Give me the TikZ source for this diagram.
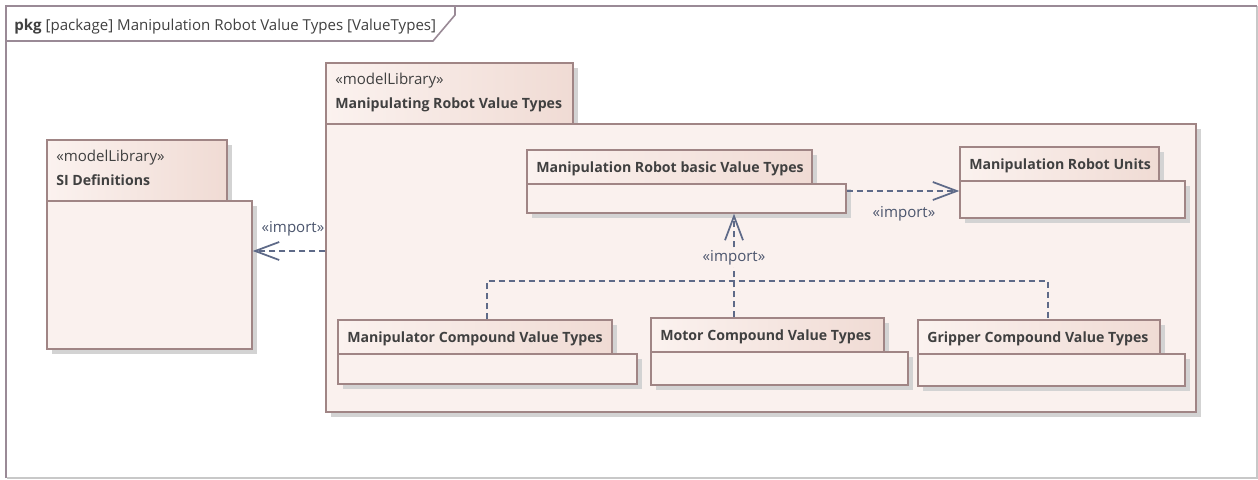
\documentclass[tikz,border=0pt]{standalone}
\usepackage{fontspec}
\setmainfont{Open Sans}
\usetikzlibrary{arrows.meta,fit,shadows}
\definecolor{frameline}{HTML}{9A8A96}
\definecolor{framelight}{HTML}{C8C8C8}
\definecolor{pkgline}{HTML}{A08585}
\definecolor{bodyfill}{HTML}{FAF1EE}
\definecolor{tabL}{HTML}{FBF2EF}
\definecolor{tabR}{HTML}{F0DBD4}
\definecolor{shadowc}{HTML}{D3D3D3}
\definecolor{arrowc}{HTML}{5E6A88}
\definecolor{txt}{HTML}{404040}
\newcommand{\pkgtitle}[1]{{\bfseries\fontsize{10.6pt}{18pt}\selectfont #1}}
\tikzset{
  x=0.75pt, y=-0.75pt,
  pkgshadow/.style={general shadow={fill=shadowc, shadow xshift=3.5pt, shadow yshift=-3.5pt}},
  pkgbody/.style={draw=pkgline, line width=1.1pt, fill=bodyfill, inner sep=0pt, pkgshadow},
  pkgtab/.style={draw=pkgline, line width=1.1pt, left color=tabL, right color=tabR, inner sep=0pt, pkgshadow},
  lbl/.style={text=txt, font=\fontsize{11.3pt}{18pt}\selectfont, inner sep=0pt, align=left},
  ttl/.style={text=txt, font=\bfseries\fontsize{10.6pt}{13pt}\selectfont, inner sep=0pt},
  imp/.style={draw=arrowc, line width=1.1pt, dash pattern=on 4.5pt off 3pt, -{Straight Barb[length=18pt,width=13.5pt,line width=1.3pt]}},
  dep/.style={draw=arrowc, line width=1.1pt, dash pattern=on 4.5pt off 3pt},
  implbl/.style={text=arrowc!80!black, font=\fontsize{11.3pt}{13pt}\selectfont, inner sep=0pt},
}
\begin{document}
\begin{tikzpicture}
\useasboundingbox (0,0) rectangle (1258,479);
\fill[white] (0,0) rectangle (1258,479);
% frame
\draw[framelight, line width=0.8pt] (7,478) -- (1257,478) -- (1257,6);
\draw[frameline, line width=2.2pt] (6,478) -- (6,6) -- (1257,6);
\draw[frameline, line width=1.2pt] (6,41) -- (433,41) -- (455,15) -- (455,6);
\node[anchor=base west, text=txt, font=\fontsize{11.3pt}{13pt}\selectfont, inner sep=0pt] (hdr) at (14,30) {\textbf{pkg} [package] Manipulation Robot Value Types [ValueTypes]};

% SI Definitions
\coordinate (sitA) at (47,140); \coordinate (sitB) at (227,201);
\coordinate (sibA) at (47,201); \coordinate (sibB) at (252,349);
\node[pkgtab, fit=(sitA)(sitB)] (sitab) {};
\node[pkgbody, fit=(sibA)(sibB)] (si) {};
\node[lbl, anchor=base west] (sitext) at (56,185) {«modelLibrary»\\\pkgtitle{SI Definitions}};

% Manipulating Robot Value Types (container)
\coordinate (mtA) at (326,63); \coordinate (mtB) at (573,124);
\coordinate (mbA) at (326,124); \coordinate (mbB) at (1196,412);
\node[pkgtab, fit=(mtA)(mtB)] (mrtab) {};
\node[pkgbody, fit=(mbA)(mbB)] (mr) {};
\node[lbl, anchor=base west] (mrtext) at (335,108) {«modelLibrary»\\\pkgtitle{Manipulating Robot Value Types}};

% basic value types
\coordinate (btA) at (527,150); \coordinate (btB) at (812,184);
\coordinate (bbA) at (527,184); \coordinate (bbB) at (846,213);
\node[pkgtab, fit=(btA)(btB)] (basictab) {};
\node[pkgbody, fit=(bbA)(bbB)] (basic) {};
\node[ttl, anchor=base west] (basictext) at (536,172) {Manipulation Robot basic Value Types};

% units
\coordinate (utA) at (960,147); \coordinate (utB) at (1159,181);
\coordinate (ubA) at (960,181); \coordinate (ubB) at (1185,218);
\node[pkgtab, fit=(utA)(utB)] (unitstab) {};
\node[pkgbody, fit=(ubA)(ubB)] (units) {};
\node[ttl, anchor=base west] (unitstext) at (969,169) {Manipulation Robot Units};

% manipulator compound
\coordinate (matA) at (338,320); \coordinate (matB) at (612,354);
\coordinate (mabA) at (338,354); \coordinate (mabB) at (637,384);
\node[pkgtab, fit=(matA)(matB)] (maniptab) {};
\node[pkgbody, fit=(mabA)(mabB)] (manip) {};
\node[ttl, anchor=base west] (maniptext) at (347,342) {Manipulator Compound Value Types};

% motor compound
\coordinate (motA) at (651,318); \coordinate (motB) at (884,352);
\coordinate (mobA) at (651,352); \coordinate (mobB) at (908,385);
\node[pkgtab, fit=(motA)(motB)] (motortab) {};
\node[pkgbody, fit=(mobA)(mobB)] (motor) {};
\node[ttl, anchor=base west] (motortext) at (660,340) {Motor Compound Value Types};

% gripper compound
\coordinate (grtA) at (918,320); \coordinate (grtB) at (1160,354);
\coordinate (grbA) at (918,354); \coordinate (grbB) at (1185,386);
\node[pkgtab, fit=(grtA)(grtB)] (griptab) {};
\node[pkgbody, fit=(grbA)(grbB)] (grip) {};
\node[ttl, anchor=base west] (griptext) at (927,342) {Gripper Compound Value Types};

% import: container -> SI
\draw[imp] (mr.west |- 0,251) -- (si.east |- 0,251);
\node[implbl] (imp1) at (293,229) {«import»};

% import: basic -> units
\draw[imp] (basic.east |- 0,191) -- (units.west |- 0,191);
\node[implbl] (imp2) at (904,214) {«import»};

% import: compounds -> basic
\coordinate (j1) at (487,281);
\coordinate (j2) at (734,281);
\coordinate (j3) at (1048,281);
\draw[dep] (maniptab.north -| j1) -- (j1) -- (j3) -- (griptab.north -| j3);
\draw[imp] (motortab.north -| j2) -- (basic.south -| j2);
\node[implbl, fill=bodyfill, inner sep=1pt] (imp3) at (734,258) {«import»};
\end{tikzpicture}
\end{document}
